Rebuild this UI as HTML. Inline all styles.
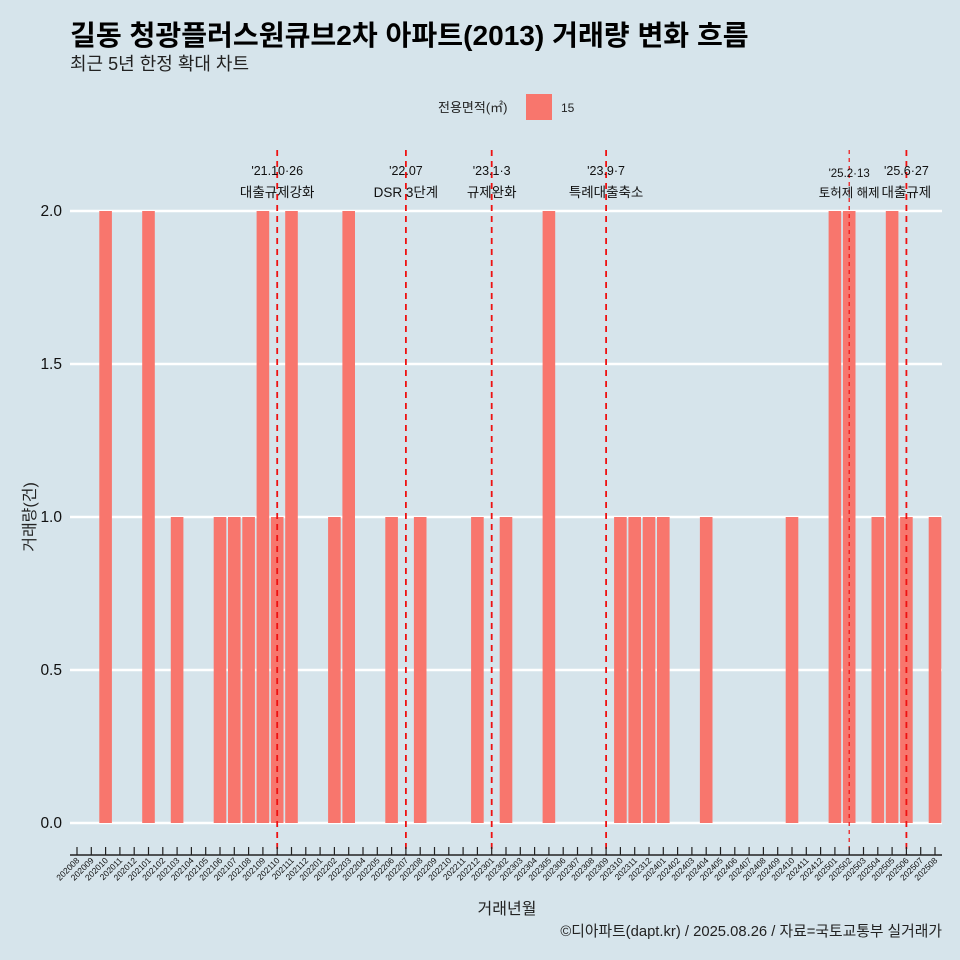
<!DOCTYPE html>
<html><head><meta charset="utf-8">
<style>
body{margin:0;background:#d6e4eb;}
svg{display:block;font-family:"Liberation Sans","Noto Sans CJK KR",sans-serif;}
</style></head>
<body>
<svg id="chart" width="960" height="960">
<rect width="960" height="960" fill="#d6e4eb"/>
<text x="70" y="45" font-size="28.1" font-weight="bold" fill="#000">길동 청광플러스원큐브2차 아파트(2013) 거래량 변화 흐름</text>
<text x="70" y="70" font-size="18" fill="#222">최근 5년 한정 확대 차트</text>
<text x="438" y="112" font-size="13" fill="#222">전용면적(㎡)</text>
<rect x="526" y="94" width="26" height="26" fill="#f8766d"/>
<text x="561" y="112" font-size="12" fill="#222">15</text>
<g id="grid"></g><g id="bars"></g><g id="events"></g><g id="axes"></g>
<text x="507" y="914" font-size="16" text-anchor="middle" fill="#222">거래년월</text>
<text transform="translate(35,517) rotate(-90)" font-size="16" text-anchor="middle" fill="#222">거래량(건)</text>
<text x="942" y="936" font-size="14.8" text-anchor="end" fill="#222">©디아파트(dapt.kr) / 2025.08.26 / 자료=국토교통부 실거래가</text>
</svg>
<script>
const months=[];
for(let y=2020;y<=2025;y++)for(let m=1;m<=12;m++){const k=y*100+m;if(k>=202008&&k<=202508)months.push(String(k));}
const barMonths=["202010","202101","202103","202106","202107","202108","202109","202110","202111","202202","202203","202206","202208","202212","202302","202305","202310","202311","202312","202401","202404","202410","202501","202502","202504","202505","202506","202508"];
const barValues=[2,2,1,1,1,1,2,1,2,1,2,1,1,1,1,2,1,1,1,1,1,1,2,2,1,2,1,1];
const yTicks=[0,0.5,1,1.5,2];
const yTickLabels=["0.0","0.5","1.0","1.5","2.0"];
const eventMonths=["202110","202207","202301","202309","202502","202506"];
const eventDates=["'21.10·26","'22.07","'23.1·3","'23.9·7","'25.2·13","'25.6·27"];
const eventLabels=["대출규제강화","DSR 3단계","규제완화","특례대출축소","토허제 해제","대출규제"];
const NS="http://www.w3.org/2000/svg";
const X0=77,DX=(935-77)/60,Y0=823,SY=306;
const xs=m=>X0+months.indexOf(m)*DX;
const ys=v=>Y0-v*SY;
function mk(t,a,p){const e=document.createElementNS(NS,t);for(const k in a)e.setAttribute(k,a[k]);p.appendChild(e);return e;}
const G=document.getElementById('grid'),B=document.getElementById('bars'),E=document.getElementById('events'),A=document.getElementById('axes');
yTicks.forEach((v,i)=>{
 const l=mk('line',{x1:70,x2:942,y1:ys(v),y2:ys(v),stroke:'#fff','stroke-width':2.4},G);
 
 
 const t=mk('text',{x:62,y:ys(v)+5,'font-size':15.5,'text-anchor':'end',fill:'#111'},A);
 t.textContent=yTickLabels[i];
 
 
});
barMonths.forEach((m,i)=>{
 const r=mk('rect',{x:xs(m)-6.3,y:ys(barValues[i]),width:12.6,height:barValues[i]*SY,fill:'#f8766d'},B);
 
 
});
eventMonths.forEach((m,i)=>{
 const x=xs(m);
 const small=m==='202502';
 const l=mk('line',{x1:x,x2:x,y1:150,y2:855,stroke:'#ee1111','stroke-width':small?1.2:1.8,'stroke-dasharray':small?'4 4':'6 5'},E);
 
 
 const t1=mk('text',{x:x,y:small?177:175,'font-size':small?11.5:12.5,'text-anchor':'middle',fill:'#111'},E);
 t1.textContent=eventDates[i];
 
 
 const t2=mk('text',{x:x,y:197,'font-size':small?12.5:13.5,'text-anchor':'middle',fill:'#111'},E);
 t2.textContent=eventLabels[i];
 
 
});
const ax=mk('line',{x1:70,x2:942,y1:855,y2:855,stroke:'#222','stroke-width':1.4},A);


months.forEach(m=>{
 const x=xs(m);
 const tk=mk('line',{x1:x,x2:x,y1:847,y2:855,stroke:'#222','stroke-width':1.2},A);
 
 
 const t=mk('text',{x:x+3,y:861,'font-size':8.5,'text-anchor':'end',fill:'#111',transform:`rotate(-45 ${x+3} 861)`},A);
 t.textContent=m;
 
 
});
</script>
</body></html>
